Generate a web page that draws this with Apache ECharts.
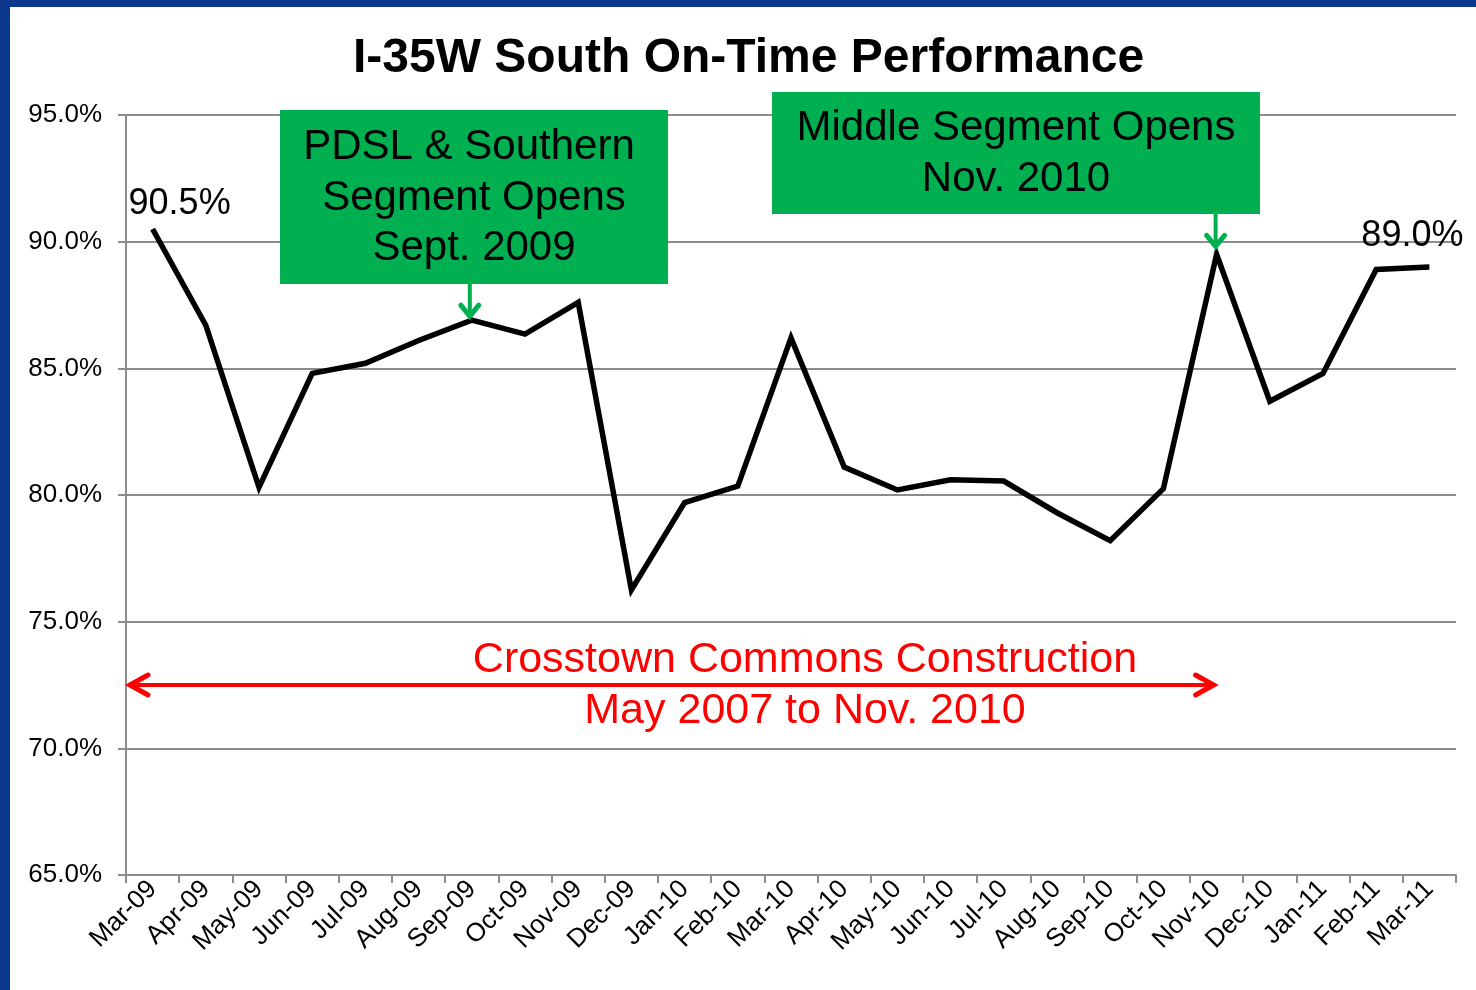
<!DOCTYPE html>
<html>
<head>
<meta charset="utf-8">
<title>I-35W South On-Time Performance</title>
<script src="https://cdn.jsdelivr.net/npm/echarts@6/dist/echarts.min.js"></script>
<style>
  html, body { margin: 0; padding: 0; background: #fff; }
  #main { width: 1476px; height: 990px; }
</style>
</head>
<body>
<div id="main"></div>
<script>
// monthly on-time %
const months = [
  "Mar-09", "Apr-09", "May-09", "Jun-09", "Jul-09", "Aug-09", "Sep-09",
  "Oct-09", "Nov-09", "Dec-09", "Jan-10", "Feb-10", "Mar-10", "Apr-10",
  "May-10", "Jun-10", "Jul-10", "Aug-10", "Sep-10", "Oct-10", "Nov-10",
  "Dec-10", "Jan-11", "Feb-11", "Mar-11"
];
const onTime = [
  90.5, 86.7, 80.3, 84.8, 85.2, 86.1, 86.9,
  86.35, 87.6, 76.25, 79.7, 80.35, 86.2, 81.1,
  80.2, 80.6, 80.55, 79.3, 78.2, 80.25, 89.5,
  83.7, 84.8, 88.9, 89.0
];
const yMin = 65;
const yMax = 95;
const yStep = 5;

const FONT = "Liberation Sans, Arial, sans-serif";
const GREEN = "#00b050";
const RED = "#ff0000";
const GRAY = "#8c8c8c";

// annotation anchors (category index / value)
const sepIdx = 6;    // PDSL & Southern Segment Opens
const novIdx = 20;   // Middle Segment Opens
const constructionLevel = 72.5;

const chart = echarts.init(document.getElementById("main"));

// only first and last points carry a value label
const seriesData = onTime.map((v, i) => {
  if (i === 0) {
    return { value: v, label: { show: true, position: "top", offset: [27, -1] } };
  }
  if (i === onTime.length - 1) {
    return { value: v, label: { show: true, position: "top", offset: [-17, -7] } };
  }
  return v;
});

const option = {
  backgroundColor: "#fff",
  animation: false,
  title: {
    text: "I-35W South On-Time Performance",
    left: 348,
    top: 30,
    textStyle: { fontFamily: FONT, fontWeight: "bold", fontSize: 48, color: "#000" }
  },
  grid: { left: 126, right: 20, top: 115, bottom: 115 },
  xAxis: {
    type: "category",
    data: months,
    boundaryGap: true,
    axisLine: { lineStyle: { color: GRAY, width: 2 } },
    axisTick: { show: true, length: 8, lineStyle: { color: GRAY, width: 2 } },
    axisLabel: {
      interval: 0,
      rotate: 45,
      margin: 10,
      fontFamily: FONT,
      fontSize: 26,
      color: "#000"
    }
  },
  yAxis: {
    type: "value",
    min: yMin,
    max: yMax,
    interval: yStep,
    axisLine: { show: true, lineStyle: { color: GRAY, width: 2 } },
    axisTick: { show: true, length: 8, lineStyle: { color: GRAY, width: 2 } },
    splitLine: { lineStyle: { color: GRAY, width: 2 } },
    axisLabel: {
      margin: 24,
      fontFamily: FONT,
      fontSize: 26,
      color: "#000",
      formatter: v => v.toFixed(1) + "%"
    }
  },
  series: [
    {
      type: "line",
      data: seriesData,
      symbol: "circle",
      symbolSize: 1,
      showAllSymbol: true,
      itemStyle: { color: "rgba(0,0,0,0)", borderWidth: 0 },
      lineStyle: { color: "#000", width: 5.5, join: "miter" },
      label: {
        formatter: p => p.value.toFixed(1) + "%",
        fontFamily: FONT,
        fontSize: 36,
        color: "#000"
      },
      z: 3
    }
  ]
};

chart.setOption(option);

// annotations placed from the axis scales
const sepPt = chart.convertToPixel({ seriesIndex: 0 }, [sepIdx, onTime[sepIdx]]);
const novPt = chart.convertToPixel({ seriesIndex: 0 }, [novIdx, onTime[novIdx]]);
const redY = chart.convertToPixel({ yAxisIndex: 0 }, constructionLevel);
const redLeft = 130;
const redRight = novPt[0] - 3;

function downArrow(x, y0, y1) {
  return [
    { type: "line", shape: { x1: x, y1: y0, x2: x, y2: y1 - 2 },
      style: { stroke: GREEN, lineWidth: 4 }, z: 10 },
    { type: "polyline", shape: { points: [[x - 9, y1 - 13], [x, y1 - 2], [x + 9, y1 - 13]] },
      style: { stroke: GREEN, lineWidth: 5, fill: null, lineCap: "round", lineJoin: "miter" }, z: 10 }
  ];
}

function textEl(str, x, y, size, color) {
  return {
    type: "text", x: x, y: y, z: 11,
    style: {
      text: str, fontFamily: FONT, fontSize: size, fill: color,
      align: "center", verticalAlign: "middle"
    }
  };
}

const box1 = { x: 280, y: 110, w: 388, h: 174 };
const box2 = { x: 772, y: 92, w: 488, h: 122 };

const graphics = [
  // blue slide frame
  { type: "rect", shape: { x: 0, y: 0, width: 10, height: 990 }, style: { fill: "#0b3a8c" }, z: 20 },
  { type: "rect", shape: { x: 0, y: 0, width: 1476, height: 7 }, style: { fill: "#0b3a8c" }, z: 20 },

  // green callout boxes
  { type: "rect", shape: { x: box1.x, y: box1.y, width: box1.w, height: box1.h }, style: { fill: GREEN }, z: 9 },
  textEl("PDSL & Southern", 469, 147, 42, "#000"),
  textEl("Segment Opens", 474, 198, 42, "#000"),
  textEl("Sept. 2009", 474, 248, 42, "#000"),
  { type: "rect", shape: { x: box2.x, y: box2.y, width: box2.w, height: box2.h }, style: { fill: GREEN }, z: 9 },
  textEl("Middle Segment Opens", 1016, 128, 42, "#000"),
  textEl("Nov. 2010", 1016, 179, 42, "#000"),

  // red construction span
  { type: "line", shape: { x1: redLeft + 2, y1: redY, x2: redRight - 2, y2: redY },
    style: { stroke: RED, lineWidth: 4 }, z: 10 },
  { type: "polyline", shape: { points: [[redLeft + 18, redY - 10], [redLeft, redY], [redLeft + 18, redY + 10]] },
    style: { stroke: RED, lineWidth: 5, fill: null, lineCap: "round" }, z: 10 },
  { type: "polyline", shape: { points: [[redRight - 18, redY - 10], [redRight, redY], [redRight - 18, redY + 10]] },
    style: { stroke: RED, lineWidth: 5, fill: null, lineCap: "round" }, z: 10 },
  textEl("Crosstown Commons Construction", 805, redY - 25, 43, RED),
  textEl("May 2007 to Nov. 2010", 805, redY + 26, 43, RED)
];

graphics.push(...downArrow(sepPt[0] - 2, box1.y + box1.h, sepPt[1] - 2));
graphics.push(...downArrow(novPt[0] - 1, box2.y + box2.h, novPt[1] - 6));

chart.setOption({ graphic: graphics });
</script>
</body>
</html>
